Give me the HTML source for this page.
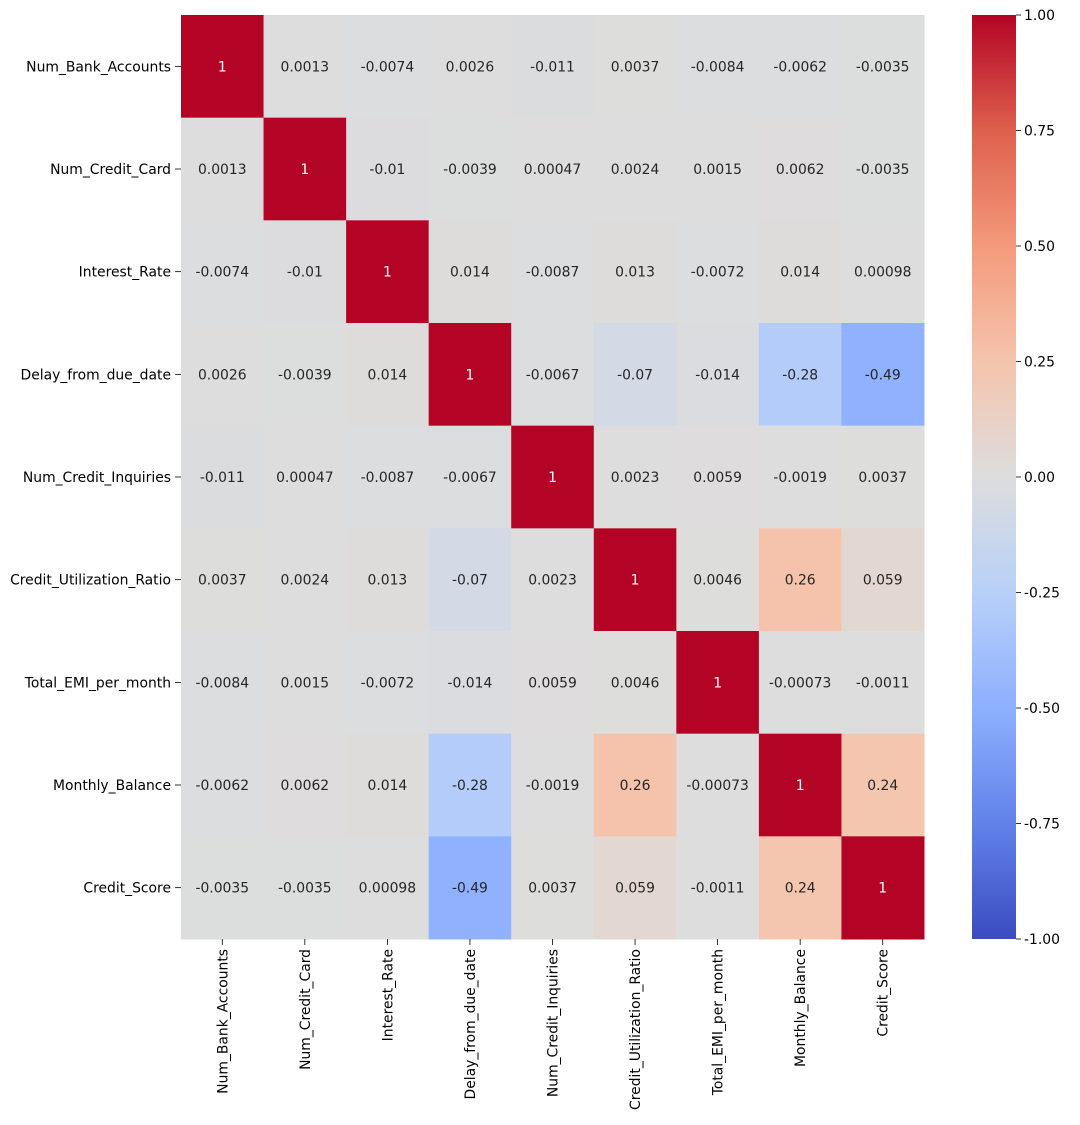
<!DOCTYPE html>
<html><head><meta charset="utf-8"><style>
body{margin:0;background:#fff;}
svg text{font-family:"DejaVu Sans","Liberation Sans",sans-serif;}
</style></head><body>
<svg id="chart" width="1080" height="1120" xmlns="http://www.w3.org/2000/svg"></svg>
<script>
const labels=["Num_Bank_Accounts","Num_Credit_Card","Interest_Rate","Delay_from_due_date","Num_Credit_Inquiries","Credit_Utilization_Ratio","Total_EMI_per_month","Monthly_Balance","Credit_Score"];
const row0=["1","0.0013","-0.0074","0.0026","-0.011","0.0037","-0.0084","-0.0062","-0.0035"];
const row1=["0.0013","1","-0.01","-0.0039","0.00047","0.0024","0.0015","0.0062","-0.0035"];
const row2=["-0.0074","-0.01","1","0.014","-0.0087","0.013","-0.0072","0.014","0.00098"];
const row3=["0.0026","-0.0039","0.014","1","-0.0067","-0.07","-0.014","-0.28","-0.49"];
const row4=["-0.011","0.00047","-0.0087","-0.0067","1","0.0023","0.0059","-0.0019","0.0037"];
const row5=["0.0037","0.0024","0.013","-0.07","0.0023","1","0.0046","0.26","0.059"];
const row6=["-0.0084","0.0015","-0.0072","-0.014","0.0059","0.0046","1","-0.00073","-0.0011"];
const row7=["-0.0062","0.0062","0.014","-0.28","-0.0019","0.26","-0.00073","1","0.24"];
const row8=["-0.0035","-0.0035","0.00098","-0.49","0.0037","0.059","-0.0011","0.24","1"];
const cbTicks=["1.00","0.75","0.50","0.25","0.00","-0.25","-0.50","-0.75","-1.00"];
const rows=[row0,row1,row2,row3,row4,row5,row6,row7,row8];

const NS="http://www.w3.org/2000/svg";
const svg=document.getElementById('chart');
const X0=181,Y0=15,W=743,H=924,n=labels.length,cw=W/n,ch=H/n;
const stops=[[59,76,192],[98,130,234],[141,176,254],[184,208,249],[221,221,221],[245,196,173],[244,154,123],[222,96,77],[180,4,38]];
function cmap(v){let t=(v+1)/2;t=Math.max(0,Math.min(1,t))*8;let i=Math.min(7,Math.floor(t)),f=t-i;
const a=stops[i],b=stops[i+1];return `rgb(${a.map((c,k)=>Math.round(c+(b[k]-c)*f)).join(',')})`;}
function el(tag,attrs,txt){const e=document.createElementNS(NS,tag);for(const k in attrs)e.setAttribute(k,attrs[k]);if(txt!==undefined)e.textContent=txt;svg.appendChild(e);return e;}
const xs=i=>X0+i*cw, ys=j=>Y0+j*ch;
rows.forEach((r,j)=>r.forEach((s,i)=>{
 const v=parseFloat(s);
 const c=el('rect',{x:xs(i),y:ys(j),width:cw+0.5,height:ch+0.5,fill:cmap(v)});
 
 
 const t=el('text',{x:xs(i)+cw/2,y:ys(j)+ch/2+5,'text-anchor':'middle','font-size':13.9,fill:v>0.6?'#fff':'#262626'},s);
 
 
}));
labels.forEach((l,j)=>{
 const t=el('text',{x:171,y:ys(j)+ch/2+5,'text-anchor':'end','font-size':13.9,fill:'#000'},l);
 
 
 el('line',{x1:175,x2:181,y1:ys(j)+ch/2,y2:ys(j)+ch/2,stroke:'#000','stroke-width':0.8});
 const cx=xs(j)+cw/2;
 el('line',{x1:cx,x2:cx,y1:939,y2:945,stroke:'#000','stroke-width':0.8});
 const u=el('text',{x:0,y:0,'text-anchor':'end','font-size':13.9,fill:'#000',transform:`translate(${cx+5},949) rotate(-90)`},l);
 
 
});
const CX=972,CW=44;
const g=document.createElementNS(NS,'defs');svg.appendChild(g);
const lg=document.createElementNS(NS,'linearGradient');lg.setAttribute('id','cb');lg.setAttribute('x1','0');lg.setAttribute('y1','1');lg.setAttribute('x2','0');lg.setAttribute('y2','0');g.appendChild(lg);
stops.forEach((s,k)=>{const st=document.createElementNS(NS,'stop');st.setAttribute('offset',k/8);st.setAttribute('stop-color',`rgb(${s.join(',')})`);lg.appendChild(st);});
const cb=el('rect',{x:CX,y:Y0,width:CW,height:H,fill:'url(#cb)'});


cbTicks.forEach(s=>{
 const v=parseFloat(s),y=Y0+(1-v)/2*H;
 el('line',{x1:CX+CW,x2:CX+CW+5,y1:y,y2:y,stroke:'#000','stroke-width':0.8});
 const t=el('text',{x:CX+CW+8,y:y+5,'font-size':13.9,fill:'#000'},s);
 
 
});
</script>
</body></html>
